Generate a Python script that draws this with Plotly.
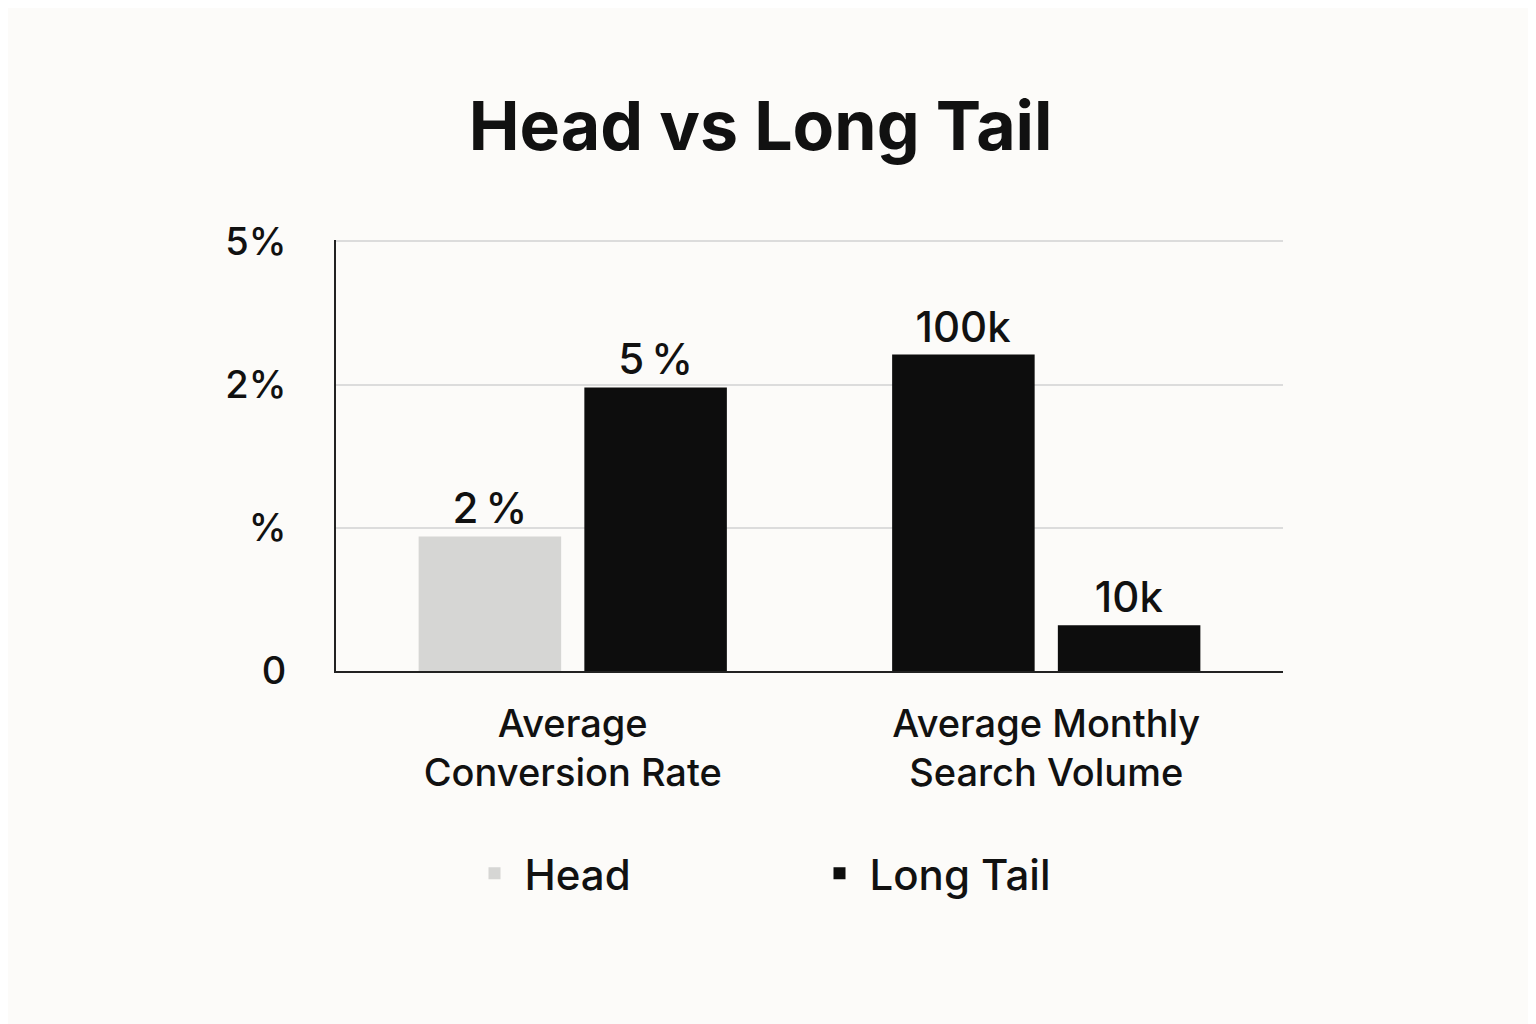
import plotly.graph_objects as go

categories = ["Average<br>Conversion Rate", "Average Monthly<br>Search Volume"]
head_values = [0.94, 2.21]
head_labels = ["2\u2009%", "100k"]
tail_values = [1.98, 0.32]
tail_labels = ["5\u2009%", "10k"]
tick_vals = [0, 1, 2, 3]
tick_text = ["0", "%", "2%", "5%"]

fig = go.Figure()
fig.add_bar(name="Head", x=categories, y=head_values, text=head_labels,
            textposition="outside", marker=dict(color=["#d6d6d4", "#0d0d0d"], line_width=0),
            cliponaxis=False)
fig.add_bar(name="Long Tail", x=categories, y=tail_values, text=tail_labels,
            textposition="outside", marker=dict(color="#0d0d0d", line_width=0),
            cliponaxis=False)

fig.update_layout(
    width=1536, height=1024,
    paper_bgcolor="#fcfbf9", plot_bgcolor="#fcfbf9",
    font=dict(family="Inter, Open Sans, sans-serif", color="#111", size=36, weight=500),
    title=dict(text="<b>Head vs Long Tail</b>", x=0.49, xanchor="center", y=0.885, yanchor="middle",
               font=dict(size=68, color="#111")),
    margin=dict(l=328, r=261, t=232, b=361),
    barmode="group", bargap=0.30, bargroupgap=0.14,
    legend=dict(orientation="h", x=0.5, xanchor="center", y=-0.47, yanchor="middle",
                font=dict(size=42, weight=500), itemwidth=50, entrywidth=280, traceorder="normal"),
    showlegend=True,
)
fig.update_traces(textfont=dict(size=42, color="#111", weight=500))
fig.update_yaxes(range=[0, 3.01], tickvals=tick_vals, ticktext=tick_text, showgrid=True,
                 gridcolor="#dcdcdc", gridwidth=2, showline=True, linecolor="#222", linewidth=2,
                 zeroline=False, ticks="", ticklabelstandoff=40, tickfont=dict(size=38, weight=500))
fig.update_xaxes(showline=True, linecolor="#222", linewidth=2, ticks="",
                 tickfont=dict(size=38, weight=500), ticklabelstandoff=18)
fig.write_html("out.html")
